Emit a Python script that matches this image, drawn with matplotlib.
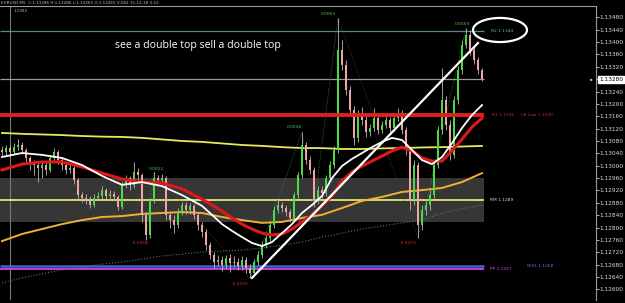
import numpy as np
import matplotlib
matplotlib.use('Agg')
import matplotlib.pyplot as plt
from matplotlib.patches import Ellipse

# ---------------- data ----------------
first_open = 1.13051
closes = [
    1.13044, 1.13057, 1.13044, 1.13060, 1.13067, 1.13051, 1.13025, 1.13009, 1.13002, 1.12993,
    1.13002, 1.12986, 1.13025, 1.13044, 1.13018, 1.13002, 1.12986, 1.12993, 1.12954, 1.12905,
    1.12895, 1.12889, 1.12873, 1.12895, 1.12902, 1.12921, 1.12902, 1.12908, 1.12899, 1.12867,
    1.12938, 1.12960, 1.12938, 1.12980, 1.12970, 1.12841, 1.12776, 1.12889, 1.12960, 1.12954,
    1.12960, 1.12841, 1.12824, 1.12808, 1.12850, 1.12873, 1.12857, 1.12870, 1.12841, 1.12808,
    1.12785, 1.12743, 1.12711, 1.12688, 1.12695, 1.12679, 1.12701, 1.12685, 1.12688, 1.12675,
    1.12695, 1.12669, 1.12653, 1.12688, 1.12711, 1.12743, 1.12766, 1.12808, 1.12857, 1.12873,
    1.12863, 1.12850, 1.12831, 1.12905, 1.12970, 1.13067, 1.13018, 1.12986, 1.12889, 1.12921,
    1.12912, 1.12960, 1.13002, 1.13051, 1.13374, 1.13326, 1.13245, 1.13180, 1.13090, 1.13164,
    1.13148, 1.13109, 1.13122, 1.13154, 1.13115, 1.13132, 1.13148, 1.13122, 1.13154, 1.13170,
    1.13115, 1.13051, 1.12889, 1.13002, 1.12808, 1.12857, 1.12873, 1.12905, 1.13002, 1.13115,
    1.13213, 1.13132, 1.13035, 1.13213, 1.13310, 1.13390, 1.13423, 1.13374, 1.13342, 1.13310,
    1.13280]
highs = [
    1.13064, 1.13067, 1.13067, 1.13073, 1.13086, 1.13077, 1.13057, 1.13031, 1.13018, 1.13012,
    1.13012, 1.13012, 1.13035, 1.13057, 1.13051, 1.13028, 1.13012, 1.13005, 1.13002, 1.12960,
    1.12915, 1.12908, 1.12902, 1.12908, 1.12915, 1.12934, 1.12928, 1.12921, 1.12918, 1.12905,
    1.12947, 1.12970, 1.12967, 1.13012, 1.12993, 1.12976, 1.12850, 1.12895, 1.12980, 1.12970,
    1.12973, 1.12967, 1.12853, 1.12841, 1.12863, 1.12883, 1.12883, 1.12879, 1.12876, 1.12850,
    1.12818, 1.12795, 1.12753, 1.12721, 1.12711, 1.12708, 1.12711, 1.12714, 1.12708, 1.12701,
    1.12708, 1.12705, 1.12682, 1.12698, 1.12724, 1.12756, 1.12779, 1.12821, 1.12870, 1.12889,
    1.12883, 1.12873, 1.12860, 1.12915, 1.12980, 1.13109, 1.13077, 1.13031, 1.12996, 1.12934,
    1.12934, 1.12970, 1.13015, 1.13064, 1.13478, 1.13407, 1.13342, 1.13258, 1.13193, 1.13180,
    1.13190, 1.13161, 1.13135, 1.13187, 1.13164, 1.13145, 1.13161, 1.13158, 1.13167, 1.13187,
    1.13180, 1.13125, 1.13060, 1.13018, 1.13012, 1.12873, 1.12889, 1.12921, 1.13012, 1.13128,
    1.13316, 1.13225, 1.13148, 1.13225, 1.13322, 1.13407, 1.13445, 1.13439, 1.13384, 1.13352,
    1.13316]
lows = [
    1.13031, 1.13035, 1.13031, 1.13038, 1.13051, 1.13038, 1.13012, 1.12986, 1.12970, 1.12947,
    1.12960, 1.12970, 1.12980, 1.13018, 1.13005, 1.12986, 1.12973, 1.12976, 1.12941, 1.12892,
    1.12883, 1.12876, 1.12863, 1.12866, 1.12889, 1.12892, 1.12892, 1.12895, 1.12889, 1.12857,
    1.12860, 1.12928, 1.12921, 1.12928, 1.12954, 1.12818, 1.12760, 1.12766, 1.12879, 1.12941,
    1.12944, 1.12824, 1.12798, 1.12782, 1.12798, 1.12841, 1.12844, 1.12844, 1.12828, 1.12792,
    1.12769, 1.12727, 1.12698, 1.12669, 1.12675, 1.12659, 1.12669, 1.12656, 1.12672, 1.12663,
    1.12663, 1.12653, 1.12637, 1.12643, 1.12679, 1.12701, 1.12734, 1.12756, 1.12798, 1.12847,
    1.12850, 1.12837, 1.12818, 1.12821, 1.12895, 1.12960, 1.13005, 1.12973, 1.12866, 1.12876,
    1.12895, 1.12902, 1.12950, 1.12993, 1.13041, 1.13310, 1.13229, 1.13164, 1.13067, 1.13077,
    1.13132, 1.13093, 1.13096, 1.13112, 1.13103, 1.13106, 1.13122, 1.13109, 1.13112, 1.13145,
    1.13103, 1.13035, 1.12857, 1.12873, 1.12766, 1.12792, 1.12841, 1.12857, 1.12895, 1.12993,
    1.13103, 1.13115, 1.13018, 1.13025, 1.13200, 1.13297, 1.13381, 1.13358, 1.13329, 1.13297,
    1.13275]

# fast moving averages (denser sampling where they bend)
fast_idx = [0, 5, 10, 15, 20, 25, 30, 35, 40, 45, 50, 52.5, 55, 57.5, 60, 62.5, 65, 67.5,
            70, 72.5, 75, 77.5, 80, 82.5, 85, 87.5, 90, 92.5, 95, 97.5, 100, 102.5, 105,
            107.5, 110, 112.5, 115, 117.5, 120]
ma_white = [1.13028, 1.13041, 1.13035, 1.13025, 1.13002, 1.12967, 1.12938, 1.12947, 1.12934,
            1.12905, 1.12870, 1.12841, 1.12811, 1.12789, 1.12769, 1.12750, 1.12740, 1.12753,
            1.12782, 1.12811, 1.12847, 1.12873, 1.12902, 1.12960, 1.12999, 1.13022, 1.13041,
            1.13060, 1.13077, 1.13090, 1.13083, 1.13051, 1.13018, 1.13005, 1.13028, 1.13073,
            1.13122, 1.13164, 1.13196]
ma_red = [1.12986, 1.13005, 1.13012, 1.13012, 1.12996, 1.12976, 1.12957, 1.12947, 1.12944,
          1.12925, 1.12892, 1.12873, 1.12853, 1.12831, 1.12811, 1.12795, 1.12782, 1.12776,
          1.12779, 1.12795, 1.12818, 1.12841, 1.12870, 1.12902, 1.12950, 1.12980, 1.12999,
          1.13015, 1.13031, 1.13048, 1.13060, 1.13048, 1.13025, 1.13015, 1.13015, 1.13048,
          1.13086, 1.13125, 1.13154]

# slow moving averages
slow_idx = [0, 5, 10, 15, 20, 25, 30, 35, 40, 45, 50, 55, 60, 65, 70, 75, 80, 85, 90, 95,
            100, 105, 110, 115, 120]
ma_orange = [1.12756, 1.12779, 1.12795, 1.12811, 1.12824, 1.12834, 1.12837, 1.12844, 1.12847,
             1.12850, 1.12847, 1.12834, 1.12824, 1.12815, 1.12818, 1.12831, 1.12841, 1.12863,
             1.12886, 1.12899, 1.12915, 1.12921, 1.12928, 1.12947, 1.12976]
ma_yellow = [1.13106, 1.13103, 1.13101, 1.13099, 1.13096, 1.13094, 1.13093, 1.13090, 1.13085,
             1.13080, 1.13077, 1.13072, 1.13067, 1.13064, 1.13060, 1.13057, 1.13057, 1.13054,
             1.13054, 1.13056, 1.13057, 1.13059, 1.13060, 1.13062, 1.13064]
ma_green = [1.12621, 1.12637, 1.12650, 1.12663, 1.12672, 1.12682, 1.12688, 1.12698, 1.12708,
            1.12714, 1.12721, 1.12724, 1.12727, 1.12734, 1.12743, 1.12753, 1.12769, 1.12782,
            1.12795, 1.12805, 1.12815, 1.12824, 1.12847, 1.12860, 1.12873]

level_r2 = 1.13436
level_r1 = 1.13164
level_rm = 1.12889
level_ws1 = 1.12675
level_pp = 1.12666
band_top = 1.12960
band_bottom = 1.12818

trend_idx = [62.5, 119]
trend_price = [1.12637, 1.13397]

zz_idx = [36, 38, 62, 75, 78, 84, 104, 116]
zz_price = [1.12760, 1.12980, 1.12637, 1.13109, 1.12866, 1.13478, 1.12766, 1.13445]
zz_text = ['-0.0058', '0.0022', '-0.0075', '0.0048', '', '0.0063', '-0.0073', '0.0059']

yticks = [1.12600, 1.12640, 1.12680, 1.12720, 1.12760, 1.12800, 1.12840, 1.12880, 1.12920,
          1.12960, 1.13000, 1.13040, 1.13080, 1.13120, 1.13160, 1.13200, 1.13240, 1.13280,
          1.13320, 1.13360, 1.13400, 1.13440, 1.13480]

# ---------------- figure ----------------
fig = plt.figure(figsize=(6.25, 3.03), dpi=100, facecolor='black')
ax = fig.add_axes([0, 3 / 303, 596 / 625, 294 / 303])
ax.set_facecolor('black')
ax.set_xlim(-0.5, 148.5)
ax.set_ylim(1.125655, 1.135166)

n = len(closes)
idx = np.arange(n)
c = np.array(closes)
o = np.concatenate([[first_open], c[:-1]])
h = np.array(highs)
l = np.array(lows)
x_end = n - 0.5

# gray band
ax.fill_between([-0.5, x_end], band_bottom, band_top, color='#363636', lw=0, zorder=1)
ax.axvline(2, color='#7a7a7a', lw=0.8, zorder=1)

# level lines
ax.hlines(level_r2, -0.5, x_end, color='#4f8c8c', lw=0.9, zorder=2)
ax.hlines(c[-1], -0.5, x_end, color='#9a9a9a', lw=0.9, zorder=2)
ax.hlines(level_rm, -0.5, x_end, color='#e6e673', lw=1.3, zorder=2)
ax.hlines(level_ws1, -0.5, x_end, color='#4660d0', lw=1.8, zorder=2)
ax.hlines(level_pp, -0.5, x_end, color='#c040d0', lw=1.4, zorder=2)

# slow MAs
ax.plot(slow_idx, ma_green, color='#4f7f4f', lw=0.8, ls=':', zorder=2)
ax.plot(slow_idx, ma_yellow, color='#e8e860', lw=1.3, zorder=2)
ax.plot(slow_idx, ma_orange, color='#f0b030', lw=1.4, zorder=3)

# zigzag
for i in range(len(zz_idx) - 1):
    rising = zz_price[i + 1] > zz_price[i]
    ax.plot(zz_idx[i:i + 2], zz_price[i:i + 2], ls=':', lw=0.6,
            color='#3e8a3e' if rising else '#7a2a2a', zorder=2)

# candles
up = c >= o
ax.vlines(idx, l, h, color='#b8b8b8', lw=0.6, zorder=4)
body = np.where(np.abs(c - o) < 0.00002, 0.00002, c - o)
ax.bar(idx[up], body[up], bottom=o[up], width=0.62, color='#46dc46', lw=0, zorder=5)
ax.bar(idx[~up], body[~up], bottom=o[~up], width=0.62, color='#f0a4a4', lw=0, zorder=5)

# fast MAs and R1 over candles
ax.hlines(level_r1, -0.5, x_end, color='#e02020', lw=2.8, zorder=6)
ax.plot(fast_idx, ma_red, color='#e01818', lw=2.2, zorder=6, solid_joinstyle='round')
ax.plot(fast_idx, ma_white, color='white', lw=1.3, zorder=7, solid_joinstyle='round')

# trend line and ellipse
ax.plot(trend_idx, trend_price, color='white', lw=1.6, zorder=8)
ax.add_patch(Ellipse((124.5, 1.13439), 13.5, 0.00078, fill=False, ec='white', lw=1.6, zorder=8))

# zigzag labels
offs = [(-6, -3), (2, 3), (-10, -6), (-8, 5), (0, 0), (-10, 4), (-10, -5), (-4, 4)]
for xi, yi, t, d in zip(zz_idx, zz_price, zz_text, offs):
    if t:
        ax.annotate(t, (xi, yi), xytext=d, textcoords='offset pixels', ha='center',
                    va='center', fontsize=3.2,
                    color='#d03030' if t.startswith('-') else '#5cc05c', zorder=9)

# level labels
ax.text(125, level_r2, 'R2 1.1344', color='#70b4b4', fontsize=3.2, ha='center', va='center')
ax.text(122.5, level_r1, 'R1 1.1316  ·  LB Low 1.1320', color='#c03030', fontsize=3.2,
        ha='left', va='center')
ax.text(122, level_rm, 'RM 1.1289', color='#d8d8d8', fontsize=3.2, ha='left', va='center')
ax.text(122, level_pp, 'PP 1.1267', color='#c050d0', fontsize=3.2, ha='left', va='center')
ax.text(131.25, level_ws1, 'WS1 1.1268', color='#5a78e8', fontsize=3.2, ha='left', va='center')

# main annotation
ax.text(28.25, 1.13390, 'see a double top sell a double top', color='white',
        fontsize=7.6, family=['Open Sans', 'DejaVu Sans'], ha='left', va='center', zorder=9)

# axis styling
ax.set_xticks([])
ax.yaxis.tick_right()
ax.set_yticks(yticks)
ax.set_yticklabels([f'{v:.5f}' for v in yticks])
ax.tick_params(axis='y', colors='#d8d8d8', labelsize=4.2, length=2, width=0.6, pad=0.8,
               labelcolor='#d8d8d8')
for s in ['left', 'bottom']:
    ax.spines[s].set_visible(False)
for s in ['top', 'right']:
    ax.spines[s].set_color('#9a9a9a')
    ax.spines[s].set_linewidth(0.8)

# current price box
ax.annotate(f'{c[-1]:.5f}', xy=(1.0, c[-1]), xycoords=('axes fraction', 'data'),
            xytext=(3, 0), textcoords='offset pixels', ha='left', va='center',
            fontsize=4.2, color='black',
            bbox=dict(boxstyle='square,pad=0.15', fc='white', ec='white'), zorder=10)
ax.annotate('◄', xy=(1.0, c[-1]), xycoords=('axes fraction', 'data'), xytext=(-5, 0),
            textcoords='offset pixels', ha='center', va='center', fontsize=3, color='white')

# header
fig.text(0.002, 1 - 2.5 / 303, 'EURUSD,M5  C:1.13286 H:1.13286 L:1.13265 O:1.13265 V:582 15-12-18 3:22',
         color='#bdbdbd', fontsize=3.0, ha='left', va='center')
ax.text(3.0, 1.13500, '1.1382', color='#bdbdbd', fontsize=3.0, ha='left', va='center')

fig.savefig('out.png', dpi=100, facecolor='black')
